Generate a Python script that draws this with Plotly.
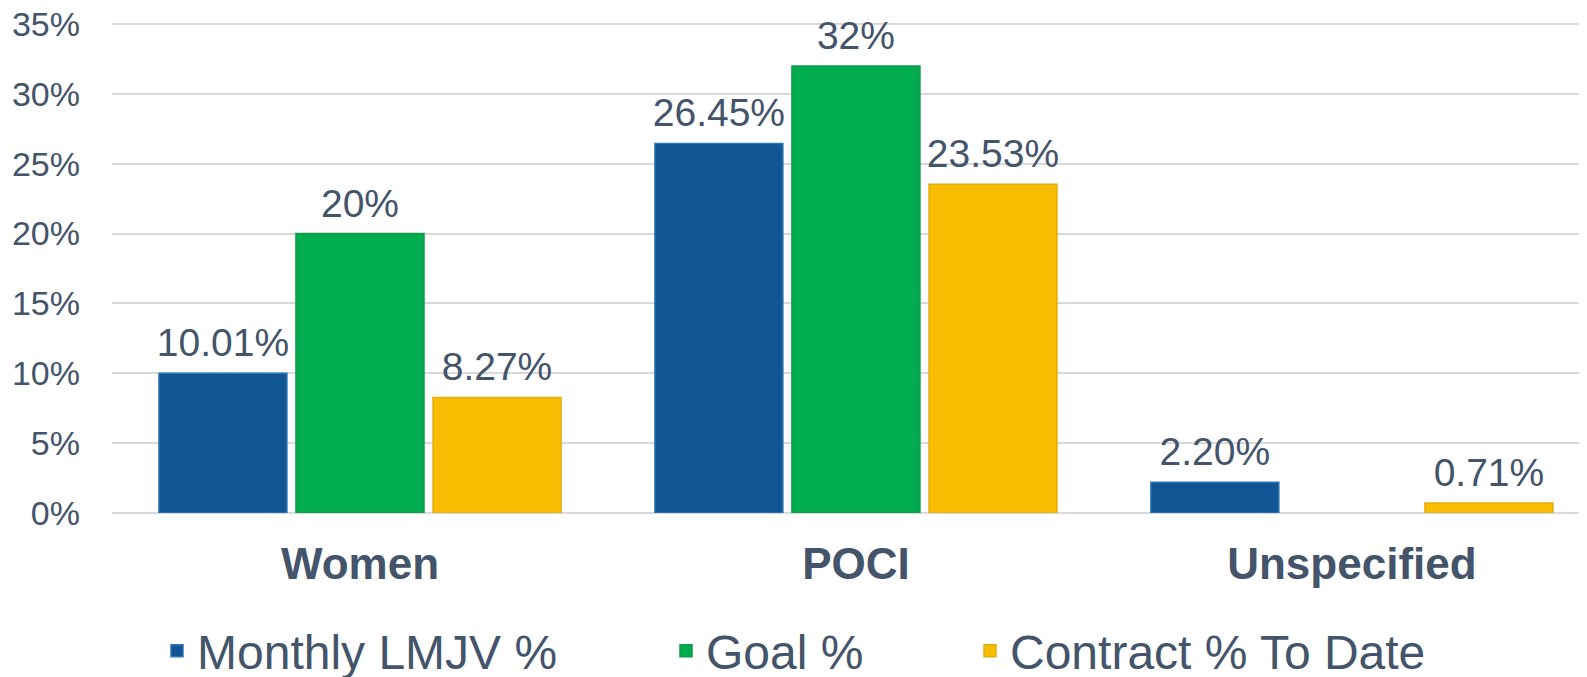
import plotly.graph_objects as go

categories = ["Women", "POCI", "Unspecified"]
series_names = ["Monthly LMJV %", "Goal %", "Contract % To Date"]
monthly_lmjv = [10.01, 26.45, 2.20]
goal = [20, 32, None]
contract_to_date = [8.27, 23.53, 0.71]
monthly_labels = ["10.01%", "26.45%", "2.20%"]
goal_labels = ["20%", "32%", ""]
contract_labels = ["8.27%", "23.53%", "0.71%"]
y_ticks = [0, 5, 10, 15, 20, 25, 30, 35]

fill_colors = ["#115694", "#00AC4E", "#F8BD00"]
line_colors = ["#2E75B6", "#0E9A4B", "#E2AE10"]
text_color = "#44546A"
font_family = "Liberation Sans, Arial, sans-serif"

values = [monthly_lmjv, goal, contract_to_date]
labels = [monthly_labels, goal_labels, contract_labels]
legend_ids = ["legend", "legend2", "legend3"]

fig = go.Figure()
for i in range(3):
    fig.add_trace(go.Bar(
        x=categories, y=values[i], name=series_names[i],
        marker=dict(color=fill_colors[i], line=dict(color=line_colors[i], width=1.5)),
        legend=legend_ids[i], hoverinfo="x+y+name",
    ))
# value labels: text traces grouped the same way as the bars
# (transparent anchor marker only sets the label's distance above the bar top)
for i in range(3):
    fig.add_trace(go.Scatter(
        x=categories, y=values[i], text=labels[i], mode="markers+text",
        marker=dict(size=10, color="rgba(0,0,0,0)"),
        textposition="top center", cliponaxis=False, showlegend=False,
        textfont=dict(size=39, color=text_color, family=font_family),
        hoverinfo="skip",
    ))

# page has an 8px body margin; figure is sized to fill the rest of the window
W, H = 1579, 669
ml, mr, mt, mb = 104, 0, 14, 164
y_top = 35 * (H - mb - mt) / (H - mb - 16)

legend_left_px = [149, 658, 962]
legend_center_y_px = 643
legend_common = dict(orientation="h", yanchor="middle", xanchor="left",
                     xref="container", yref="container",
                     font=dict(size=48, color=text_color, family=font_family),
                     bgcolor="rgba(0,0,0,0)", borderwidth=0)
legend_y = 1 - legend_center_y_px / H
fig.update_layout(
    width=W, height=H,
    margin=dict(l=ml, r=mr, t=mt, b=mb, pad=0, autoexpand=False),
    paper_bgcolor="white", plot_bgcolor="white",
    barmode="group", bargap=0.171, bargroupgap=0.066,
    scattermode="group", scattergap=0.171,
    font=dict(family=font_family, color=text_color),
    showlegend=True,
    legend=dict(x=legend_left_px[0] / W, y=legend_y, **legend_common),
    legend2=dict(x=legend_left_px[1] / W, y=legend_y, **legend_common),
    legend3=dict(x=legend_left_px[2] / W, y=legend_y, **legend_common),
    xaxis=dict(
        range=[-0.5, 2.474], showgrid=False, zeroline=False, showline=False,
        ticks="", ticklabelstandoff=21, automargin=False,
        tickfont=dict(size=44, color=text_color, family=font_family, weight="bold"),
    ),
    yaxis=dict(
        range=[0, y_top], tickvals=y_ticks, ticktext=[f"{v}%" for v in y_ticks],
        showgrid=True, gridcolor="#D9D9D9", gridwidth=2,
        zeroline=True, zerolinecolor="#D9D9D9", zerolinewidth=2,
        showline=False, ticks="", ticklabelstandoff=31, automargin=False,
        ticklabeloverflow="allow",
        tickfont=dict(size=34, color=text_color, family=font_family),
    ),
)

fig.write_html("out.html")
